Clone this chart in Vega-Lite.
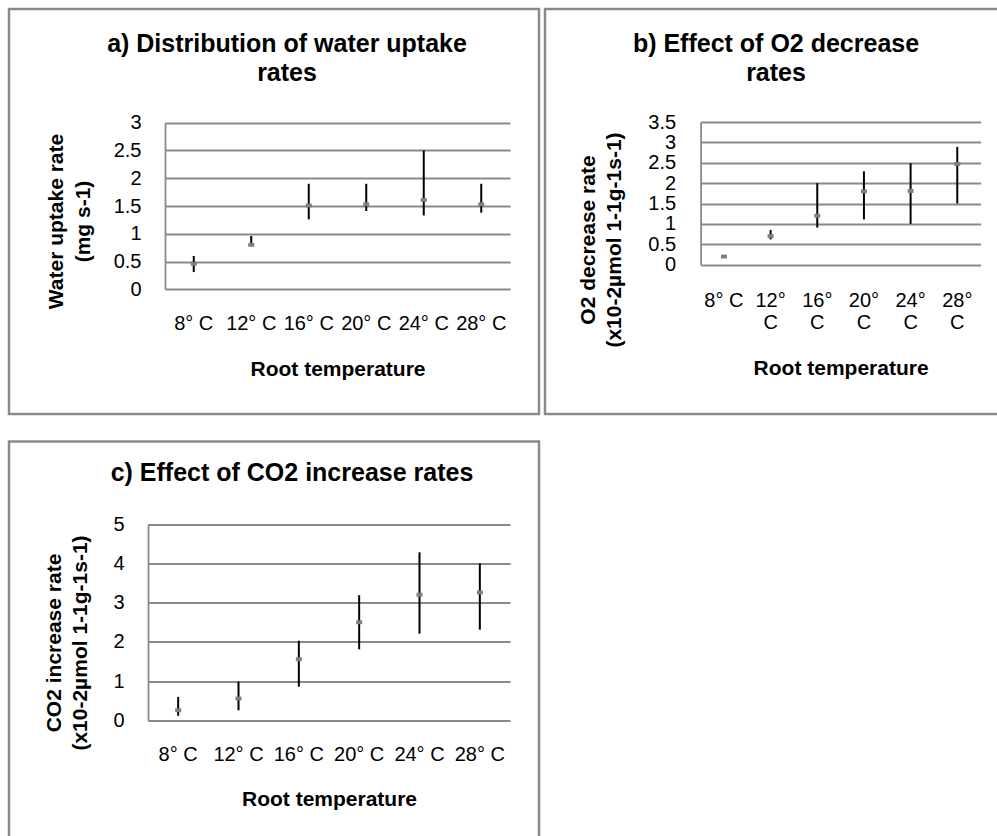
{
  "$schema": "https://vega.github.io/schema/vega-lite/v6.json",
  "padding": {"left": 7, "top": 7, "right": 0, "bottom": 0},
  "background": "white",
  "config": {
    "font": "Liberation Sans",
    "view": {"stroke": "#8a8a8a", "strokeWidth": 2.5},
    "axis": {
      "labelFont": "Liberation Sans", "labelFontSize": 20, "labelColor": "black",
      "titleFont": "Liberation Sans", "titleFontSize": 21, "titleFontWeight": "bold", "titleColor": "black",
      "ticks": false, "gridColor": "#8a8a8a", "gridWidth": 1.8, "gridOpacity": 1,
      "domainColor": "#8a8a8a", "domainWidth": 1.8, "titleLineHeight": 26.5
    },
    "point": {"shape": "M-1,-0.65H1V0.65H-1Z", "filled": true, "size": 36, "color": "#7f7f7f", "opacity": 1, "xOffset": 1.5},
    "title": {"font": "Liberation Sans", "fontSize": 25, "fontWeight": "bold", "color": "black"}
  },
  "datasets": {
    "water": [
      {"temp": "8° C", "rate": 0.46, "low": 0.31, "high": 0.6},
      {"temp": "12° C", "rate": 0.8, "low": 0.79, "high": 0.96},
      {"temp": "16° C", "rate": 1.51, "low": 1.26, "high": 1.9},
      {"temp": "20° C", "rate": 1.53, "low": 1.41, "high": 1.9},
      {"temp": "24° C", "rate": 1.61, "low": 1.33, "high": 2.5},
      {"temp": "28° C", "rate": 1.53, "low": 1.38, "high": 1.9}
    ],
    "o2": [
      {"temp": "8° C", "rate": 0.2, "low": 0.19, "high": 0.21},
      {"temp": "12° C", "rate": 0.7, "low": 0.62, "high": 0.85},
      {"temp": "16° C", "rate": 1.2, "low": 0.91, "high": 2.0},
      {"temp": "20° C", "rate": 1.8, "low": 1.11, "high": 2.29},
      {"temp": "24° C", "rate": 1.81, "low": 1.0, "high": 2.49},
      {"temp": "28° C", "rate": 2.47, "low": 1.5, "high": 2.89}
    ],
    "co2": [
      {"temp": "8° C", "rate": 0.26, "low": 0.12, "high": 0.6},
      {"temp": "12° C", "rate": 0.56, "low": 0.26, "high": 0.99},
      {"temp": "16° C", "rate": 1.56, "low": 0.86, "high": 2.03},
      {"temp": "20° C", "rate": 2.5, "low": 1.81, "high": 3.19},
      {"temp": "24° C", "rate": 3.2, "low": 2.21, "high": 4.28},
      {"temp": "28° C", "rate": 3.26, "low": 2.31, "high": 4.0}
    ]
  },
  "spacing": 23.5,
  "vconcat": [
    {
      "spacing": 2,
      "hconcat": [
        {
          "width": 530, "height": 405,
          "data": {"name": "water"},
          "title": {"text": ["a) Distribution of water uptake", "rates"], "orient": "top", "anchor": "middle", "frame": "group", "offset": -97, "dx": 13, "lineHeight": 29, "baseline": "alphabetic"},
          "encoding": {
            "x": {"field": "temp", "type": "nominal", "sort": null,
              "scale": {"range": [156, 501], "paddingInner": 0, "paddingOuter": 0},
              "axis": {"title": "Root temperature", "labelAngle": 0, "domain": false, "grid": false, "offset": -124.7, "labelPadding": 24, "titlePadding": 25}}
          },
          "layer": [
            {
              "mark": {"type": "rule", "color": "black", "strokeWidth": 2},
              "encoding": {
                "y": {"field": "low", "type": "quantitative",
                  "scale": {"domain": [0, 3], "range": [280.3, 113.7], "nice": false, "zero": false},
                  "axis": {"title": ["Water uptake rate", "(mg s-1)"], "values": [0, 0.5, 1, 1.5, 2, 2.5, 3], "format": "~g", "grid": true, "offset": -156, "labelPadding": 24, "titlePadding": 20, "titleY": 212}},
                "y2": {"field": "high"}
              }
            },
            {
              "mark": {"type": "point"},
              "encoding": {
                "y": {"field": "rate", "type": "quantitative", "axis": {"title": ["Water uptake rate", "(mg s-1)"], "values": [0, 0.5, 1, 1.5, 2, 2.5, 3], "format": "~g", "grid": true, "offset": -156, "labelPadding": 24, "titlePadding": 20, "titleY": 212}}
              }
            }
          ]
        },
        {
          "width": 460, "height": 405,
          "data": {"name": "o2"},
          "title": {"text": ["b) Effect of O2 decrease", "rates"], "orient": "top", "anchor": "middle", "frame": "group", "offset": -97, "dx": 1, "lineHeight": 29, "baseline": "alphabetic"},
          "encoding": {
            "x": {"field": "temp", "type": "nominal", "sort": null,
              "scale": {"range": [155.6, 435.6], "paddingInner": 0, "paddingOuter": 0},
              "axis": {"title": "Root temperature", "labelAngle": 0, "domain": false, "grid": false, "offset": -149.3, "labelPadding": 26, "titlePadding": 25, "labelLineHeight": 22,
                "labelExpr": "datum.label == '8° C' ? datum.label : split(datum.label, ' ')"}}
          },
          "layer": [
            {
              "mark": {"type": "rule", "color": "black", "strokeWidth": 2},
              "encoding": {
                "y": {"field": "low", "type": "quantitative",
                  "scale": {"domain": [0, 3.5], "range": [255.7, 113], "nice": false, "zero": false},
                  "axis": {"title": ["O2 decrease  rate", "(x10-2µmol 1-1g-1s-1)"], "values": [0, 0.5, 1, 1.5, 2, 2.5, 3, 3.5], "format": "~g", "grid": true, "offset": -155.6, "labelPadding": 25, "titlePadding": 23, "titleY": 230.5}},
                "y2": {"field": "high"}
              }
            },
            {
              "mark": {"type": "point"},
              "encoding": {
                "y": {"field": "rate", "type": "quantitative", "axis": {"title": ["O2 decrease  rate", "(x10-2µmol 1-1g-1s-1)"], "values": [0, 0.5, 1, 1.5, 2, 2.5, 3, 3.5], "format": "~g", "grid": true, "offset": -155.6, "labelPadding": 25, "titlePadding": 23, "titleY": 230.5}}
              }
            }
          ]
        }
      ]
    },
    {
      "width": 530, "height": 400,
      "data": {"name": "co2"},
      "title": {"text": "c) Effect of CO2 increase rates", "orient": "top", "anchor": "middle", "frame": "group", "offset": -64, "dx": 18, "baseline": "alphabetic"},
      "encoding": {
        "x": {"field": "temp", "type": "nominal", "sort": null,
          "scale": {"range": [139, 501], "paddingInner": 0, "paddingOuter": 0},
          "axis": {"title": "Root temperature", "labelAngle": 0, "domain": false, "grid": false, "offset": -121, "labelPadding": 23.5, "titlePadding": 24}}
      },
      "layer": [
        {
          "mark": {"type": "rule", "color": "black", "strokeWidth": 2},
          "encoding": {
            "y": {"field": "low", "type": "quantitative",
              "scale": {"domain": [0, 5], "range": [279, 82.5], "nice": false, "zero": false},
              "axis": {"title": ["CO2 increase rate", "(x10-2µmol 1-1g-1s-1)"], "values": [0, 1, 2, 3, 4, 5], "format": "~g", "grid": true, "offset": -139, "labelPadding": 24, "titlePadding": 22, "titleY": 201}},
            "y2": {"field": "high"}
          }
        },
        {
          "mark": {"type": "point"},
          "encoding": {
            "y": {"field": "rate", "type": "quantitative", "axis": {"title": ["CO2 increase rate", "(x10-2µmol 1-1g-1s-1)"], "values": [0, 1, 2, 3, 4, 5], "format": "~g", "grid": true, "offset": -139, "labelPadding": 24, "titlePadding": 22, "titleY": 201}}
          }
        }
      ]
    }
  ]
}
